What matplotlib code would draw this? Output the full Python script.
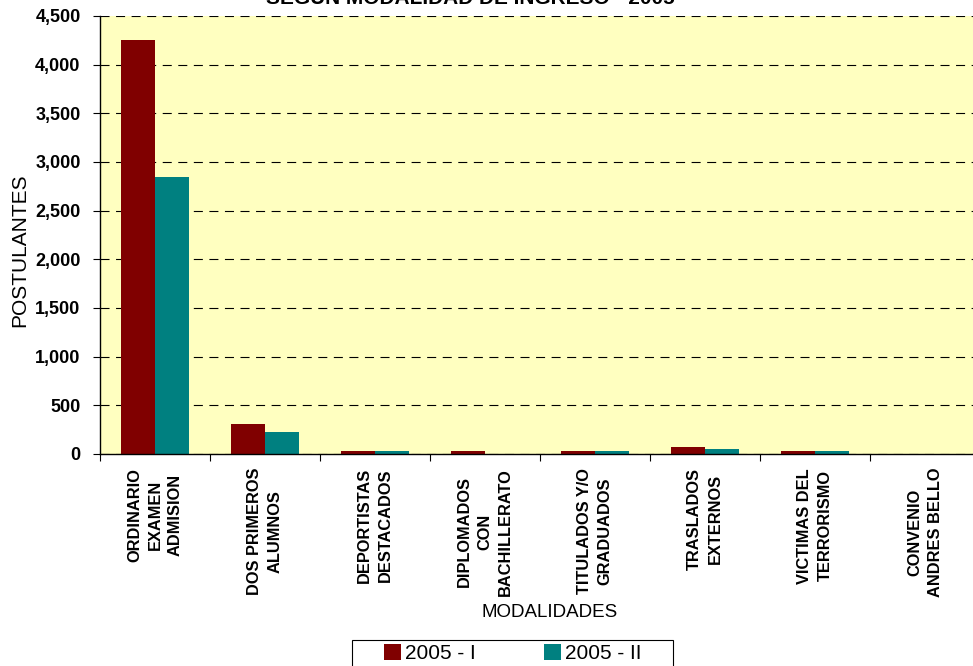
import matplotlib
matplotlib.use("Agg")
import matplotlib.pyplot as plt
import matplotlib.patches as mpatches
import numpy as np

# === DATA ===
categorias = [
    "ORDINARIO\nEXAMEN\nADMISION",
    "DOS PRIMEROS\nALUMNOS",
    "DEPORTISTAS\nDESTACADOS",
    "DIPLOMADOS\nCON\nBACHILLERATO",
    "TITULADOS Y/O\nGRADUADOS",
    "TRASLADOS\nEXTERNOS",
    "VICTIMAS DEL\nTERRORISMO",
    "CONVENIO\nANDRES BELLO",
]
sem_1 = [4250, 305, 28, 28, 28, 70, 28, 0]
sem_2 = [2850, 225, 28, 0, 28, 52, 28, 0]
series = ["2005 - I", "2005 - II"]
y_ticks = np.arange(0, 4501, 500)

# === STYLE ===
plt.rcParams["font.family"] = ["Liberation Sans", "DejaVu Sans"]
plt.rcParams["lines.scale_dashes"] = False
RED = "#800000"
TEAL = "#008080"
BG = "#FFFFC0"

W, H = 973, 666
fig = plt.figure(figsize=(W / 100, H / 100), dpi=100)
ax = fig.add_axes([100 / W, 1 - 454 / H, 880 / W, (454 - 16) / H])
ax.set_facecolor(BG)

x = np.arange(len(categorias))
bw = 0.305
ax.bar(x - bw / 2, sem_1, bw, color=RED, label=series[0], zorder=2)
ax.bar(x + bw / 2, sem_2, bw, color=TEAL, label=series[1], zorder=2)

ax.set_xlim(-0.5, len(categorias) - 0.5)
ax.set_ylim(0, 4500)
ax.set_yticks(y_ticks)
ax.set_yticklabels([f"{v:,}" for v in y_ticks], fontsize=13, fontweight="bold")
ax.yaxis.grid(True, color="black", linewidth=0.8, linestyle=(0, (6.5, 4.7)), zorder=1)
ax.set_axisbelow(True)

# boundary ticks (major) + centred labels (minor)
ax.set_xticks(np.arange(len(categorias) + 1) - 0.5)
ax.set_xticklabels([])
ax.set_xticks(x, minor=True)
ax.set_xticklabels(categorias, minor=True, rotation=90, fontsize=11.8,
                   fontweight="bold", ha="center", va="top",
                   multialignment="center", linespacing=1.45)
ax.tick_params(axis="x", which="major", length=5, width=0.8, direction="out")
ax.tick_params(axis="x", which="minor", length=0, pad=10)
ax.tick_params(axis="y", length=5, width=0.8, direction="out", pad=9)

for s in ["top", "right"]:
    ax.spines[s].set_visible(False)
for s in ["left", "bottom"]:
    ax.spines[s].set_linewidth(1.0)
    ax.spines[s].set_color("black")
    ax.spines[s].set_zorder(3)

# === TEXTS ===
fig.text(470 / W, 1 - 3.5 / H, "SEGÚN MODALIDAD DE INGRESO - 2005", ha="center",
         va="baseline", fontsize=15, fontweight="bold")
fig.text(20 / W, 1 - 250 / H, "POSTULANTES", rotation=90, ha="center",
         va="center", fontsize=15)
fig.text(550 / W, 1 - 617 / H, "MODALIDADES", ha="center", va="baseline",
         fontsize=13.5)

# === LEGEND ===
frame = mpatches.Rectangle((352 / W, -0.05), (673 - 352) / W, 0.05 + 1 - 640 / H,
                           transform=fig.transFigure, facecolor="white",
                           edgecolor="black", linewidth=0.8)
fig.patches.append(frame)
fig.legend(loc="upper left", bbox_to_anchor=(384 / W, 1 - 644 / H),
           bbox_transform=fig.transFigure, ncol=2, frameon=False, fontsize=15,
           borderpad=0, handlelength=0.82, handleheight=0.82,
           handletextpad=0.2, columnspacing=3.25, borderaxespad=0)

fig.savefig("out.png", dpi=100)
